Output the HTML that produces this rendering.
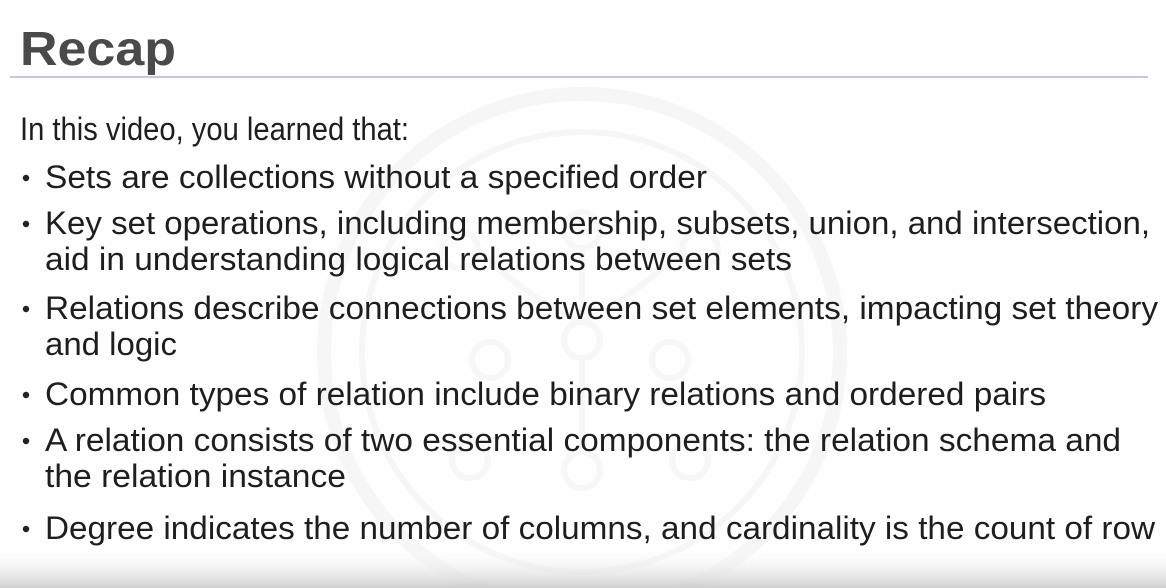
<!DOCTYPE html>
<html><head><meta charset="utf-8"><style>
html,body{margin:0;padding:0;background:#fff;}
svg{display:block;}
</style></head><body>
<svg width="1166" height="588" viewBox="0 0 1166 588" xmlns="http://www.w3.org/2000/svg">
<defs>
<linearGradient id="g" x1="0" y1="0" x2="0" y2="1">
<stop offset="0" stop-color="#ffffff" stop-opacity="0"/>
<stop offset="1" stop-color="#cfcfcf"/>
</linearGradient>
</defs>
<rect width="1166" height="588" fill="#fefefe"/>
<g fill="none" stroke="#f6f6f6" stroke-width="14">
<circle cx="582" cy="352" r="258"/>
<circle cx="582" cy="352" r="220" stroke-width="6"/>
</g>
<g fill="none" stroke="#f7f7f7" stroke-width="6">
<circle cx="460" cy="250" r="18"/><circle cx="582" cy="230" r="18"/><circle cx="700" cy="250" r="18"/>
<circle cx="490" cy="360" r="18"/><circle cx="582" cy="340" r="18"/><circle cx="670" cy="360" r="18"/>
<circle cx="470" cy="460" r="18"/><circle cx="582" cy="470" r="18"/><circle cx="690" cy="460" r="18"/>
<path d="M582 248 V322 M582 358 V452 M478 250 Q530 300 582 322 M682 250 Q630 300 582 322"/>
</g>
<text x="20" y="65" font-family="Liberation Sans, sans-serif" font-weight="bold" font-size="48" fill="#4a4a4a" textLength="156" lengthAdjust="spacingAndGlyphs">Recap</text>
<rect x="10" y="76" width="1138" height="2" fill="#c9c6e4"/>
<g font-family="Liberation Sans, sans-serif" font-size="32" fill="#1e1e1e">
<text x="20" y="140" textLength="389" lengthAdjust="spacingAndGlyphs">In this video, you learned that:</text>
<text x="45" y="188" textLength="662" lengthAdjust="spacingAndGlyphs">Sets are collections without a specified order</text>
<text x="45" y="234" textLength="1105" lengthAdjust="spacingAndGlyphs">Key set operations, including membership, subsets, union, and intersection,</text>
<text x="45" y="270" textLength="747" lengthAdjust="spacingAndGlyphs">aid in understanding logical relations between sets</text>
<text x="45" y="319" textLength="1113" lengthAdjust="spacingAndGlyphs">Relations describe connections between set elements, impacting set theory</text>
<text x="45" y="355" textLength="132" lengthAdjust="spacingAndGlyphs">and logic</text>
<text x="45" y="405" textLength="1001" lengthAdjust="spacingAndGlyphs">Common types of relation include binary relations and ordered pairs</text>
<text x="45" y="451" textLength="1076" lengthAdjust="spacingAndGlyphs">A relation consists of two essential components: the relation schema and</text>
<text x="45" y="487" textLength="301" lengthAdjust="spacingAndGlyphs">the relation instance</text>
<text x="45" y="539" textLength="1110" lengthAdjust="spacingAndGlyphs">Degree indicates the number of columns, and cardinality is the count of row</text>
</g>
<g fill="#222">
<circle cx="26" cy="178" r="3.2"/><circle cx="26" cy="224" r="3.2"/><circle cx="26" cy="309" r="3.2"/>
<circle cx="26" cy="395" r="3.2"/><circle cx="26" cy="441" r="3.2"/><circle cx="26" cy="529" r="3.2"/>
</g>
<rect x="0" y="548" width="1166" height="40" fill="url(#g)"/>
</svg>
</body></html>
